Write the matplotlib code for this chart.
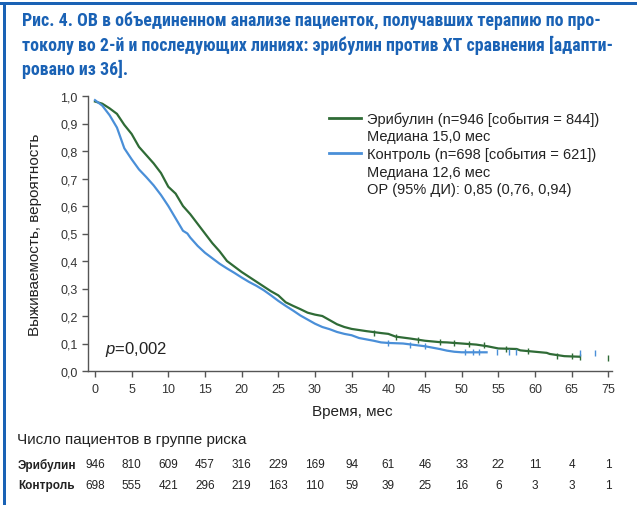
import numpy as np
import matplotlib
matplotlib.use('Agg')
import matplotlib.pyplot as plt
from matplotlib.lines import Line2D
from matplotlib.patches import Rectangle
import matplotlib.transforms as mtransforms

plt.rcParams['font.family'] = ['Liberation Sans', 'DejaVu Sans']
plt.rcParams['mathtext.fontset'] = 'custom'
plt.rcParams['mathtext.it'] = 'Liberation Sans:italic'
plt.rcParams['mathtext.rm'] = 'Liberation Sans'

# Kaplan-Meier curves (months, survival probability)
eri_months = [0, 1, 2, 3, 4, 5, 6, 7, 8, 9, 10, 11, 12, 13, 14, 15, 16, 17, 18, 19,
              20, 22, 24, 25, 26, 27, 28, 29, 30, 31, 32, 33, 34, 35, 37, 39, 40, 41,
              43, 45, 47, 48, 50, 52, 53.5, 55, 57.5, 58, 60, 61.6, 62, 64, 66]
eri_surv = [0.98, 0.972, 0.955, 0.935, 0.895, 0.862, 0.815, 0.785, 0.755, 0.72, 0.67,
            0.645, 0.60, 0.57, 0.535, 0.50, 0.465, 0.435, 0.40, 0.38, 0.36, 0.325,
            0.29, 0.275, 0.25, 0.237, 0.225, 0.212, 0.205, 0.20, 0.185, 0.17, 0.16,
            0.153, 0.145, 0.138, 0.135, 0.125, 0.118, 0.11, 0.105, 0.104, 0.10,
            0.096, 0.09, 0.082, 0.08, 0.075, 0.07, 0.066, 0.062, 0.054, 0.052]
ctl_months = [0, 1, 2, 3, 4, 5, 6, 7, 8, 9, 10, 11, 12, 12.6, 13, 14, 15, 16, 17, 18,
              19, 20, 21, 22, 23, 24, 25, 26, 27, 28, 29, 30, 31, 32, 33, 34, 35, 36,
              37, 38, 39, 40, 42, 43.5, 45, 46, 47, 48, 49, 50, 53.4]
ctl_surv = [0.985, 0.965, 0.93, 0.885, 0.81, 0.77, 0.733, 0.705, 0.675, 0.64, 0.60,
            0.555, 0.51, 0.50, 0.485, 0.455, 0.43, 0.41, 0.39, 0.373, 0.357, 0.34,
            0.324, 0.31, 0.294, 0.275, 0.255, 0.237, 0.22, 0.202, 0.187, 0.172,
            0.16, 0.152, 0.142, 0.135, 0.13, 0.12, 0.115, 0.11, 0.104, 0.102, 0.10,
            0.095, 0.09, 0.085, 0.08, 0.074, 0.07, 0.068, 0.068]

# censored observations
eri_cens_x = [38, 41, 44, 47, 49, 51, 53, 56, 59, 63, 65, 66.2, 70]
eri_cens_y = [0.14, 0.125, 0.114, 0.105, 0.102, 0.098, 0.093, 0.08, 0.072, 0.056, 0.053, 0.05, 0.046]
ctl_cens_x = [40, 43, 45, 50.5, 51.5, 52.3, 54.8, 56.5, 57.4, 66.2, 68.2]
ctl_cens_y = [0.102, 0.096, 0.09, 0.068, 0.068, 0.068, 0.068, 0.068, 0.068, 0.066, 0.064]

risk_months = [0, 5, 10, 15, 20, 25, 30, 35, 40, 45, 50, 55, 60, 65, 70]
risk_eri = [946, 810, 609, 457, 316, 229, 169, 94, 61, 46, 33, 22, 11, 4, 1]
risk_ctl = [698, 555, 421, 296, 219, 163, 110, 59, 39, 25, 16, 6, 3, 3, 1]
xtick_labels = ['0', '5', '10', '15', '20', '25', '30', '35', '40', '45', '50',
                '55', '60', '65', '75']

green = '#2f6b36'
blue = '#4a8fd8'
title_blue = '#1a62b5'

W, H = 637, 506
fig = plt.figure(figsize=(W / 100, H / 100), dpi=100)
fig.patch.set_facecolor('white')

# blue frame on top and left
fig.add_artist(Rectangle((0, 1 - 6 / H), 1, 3 / H, transform=fig.transFigure,
                         color=title_blue, lw=0))
fig.add_artist(Rectangle((3 / W, 0), 3 / W, 1 - 3 / H, transform=fig.transFigure,
                         color=title_blue, lw=0))

fig.text(22 / W, 1 - 12 / H,
         'Рис. 4. ОВ в объединенном анализе пациенток, получавших терапию по про-\n'
         'токолу во 2-й и последующих линиях: эрибулин против ХТ сравнения [адапти-\n'
         'ровано из 36].',
         ha='left', va='top', fontsize=12.9, fontweight='bold', color=title_blue,
         family=['Roboto Condensed', 'Liberation Sans Narrow', 'Roboto'], linespacing=1.33)

ax = fig.add_axes([88 / W, 1 - 372 / H, (612 - 88) / W, (372 - 97) / H])
ax.plot(eri_months, eri_surv, color=green, lw=1.6)
ax.plot(ctl_months, ctl_surv, color=blue, lw=1.6)
ax.plot(eri_cens_x, eri_cens_y, ls='none', marker='|', ms=4, mew=1, color=green)
ax.plot(ctl_cens_x, ctl_cens_y, ls='none', marker='|', ms=4, mew=1, color=blue)

ax.set_xlim(-0.95, 70.5)
ax.set_ylim(0, 1)
ax.set_xticks(risk_months)
ax.set_xticklabels(xtick_labels)
yt = np.round(np.arange(0, 1.01, 0.1), 1)
ax.set_yticks(yt)
ax.set_yticklabels([('%.1f' % v).replace('.', ',') for v in yt])
for s in ['top', 'right']:
    ax.spines[s].set_visible(False)
for s in ['left', 'bottom']:
    ax.spines[s].set_color('#555555')
    ax.spines[s].set_linewidth(1)
ax.tick_params(colors='#555555', labelcolor='#333333', labelsize=9, length=4, width=1)
ax.tick_params(axis='x', pad=5)

ax.text(1.4, 0.08, '$p$=0,002', fontsize=12, va='center', color='#222222')

handles = [Line2D([], [], color=green, lw=2), Line2D([], [], color='none'),
           Line2D([], [], color=blue, lw=2), Line2D([], [], color='none'),
           Line2D([], [], color='none')]
labels = ['Эрибулин (n=946 [события = 844])', 'Медиана 15,0 мес',
          'Контроль (n=698 [события = 621])', 'Медиана 12,6 мес',
          'ОР (95% ДИ): 0,85 (0,76, 0,94)']
leg = ax.legend(handles, labels, loc='upper left', bbox_to_anchor=(322 / W, 1 - 105 / H),
                bbox_transform=fig.transFigure, frameon=False, fontsize=10.5,
                handlelength=2.2, handletextpad=0.4, labelspacing=0.24, borderpad=0)
for t in leg.get_texts():
    t.set_color('#222222')

fig.text(352 / W, 1 - 412 / H, 'Время, мес',
         ha='center', va='center', fontsize=11, color='#222222')
fig.text(35 / W, 1 - 235 / H, 'Выживаемость, вероятность', rotation=90,
         ha='center', va='center', fontsize=11, color='#222222')

# number at risk table
fig.text(17 / W, 1 - 440 / H, 'Число пациентов в группе риска', ha='left', va='center',
         fontsize=11, color='#222222')
trans = mtransforms.blended_transform_factory(ax.transData, fig.transFigure)
fig.text(18 / W, 1 - 465 / H, 'Эрибулин', ha='left', va='center', fontsize=8.5,
         fontweight='bold', color='#222222')
fig.text(18 / W, 1 - 486 / H, 'Контроль', ha='left', va='center', fontsize=8.5,
         fontweight='bold', color='#222222')
for m, a, b in zip(risk_months, risk_eri, risk_ctl):
    ax.text(m, 1 - 465 / H, str(a), transform=trans, ha='center', va='center',
            fontsize=8.5, color='#222222')
    ax.text(m, 1 - 486 / H, str(b), transform=trans, ha='center', va='center',
            fontsize=8.5, color='#222222')

fig.savefig('out.png', dpi=100)
